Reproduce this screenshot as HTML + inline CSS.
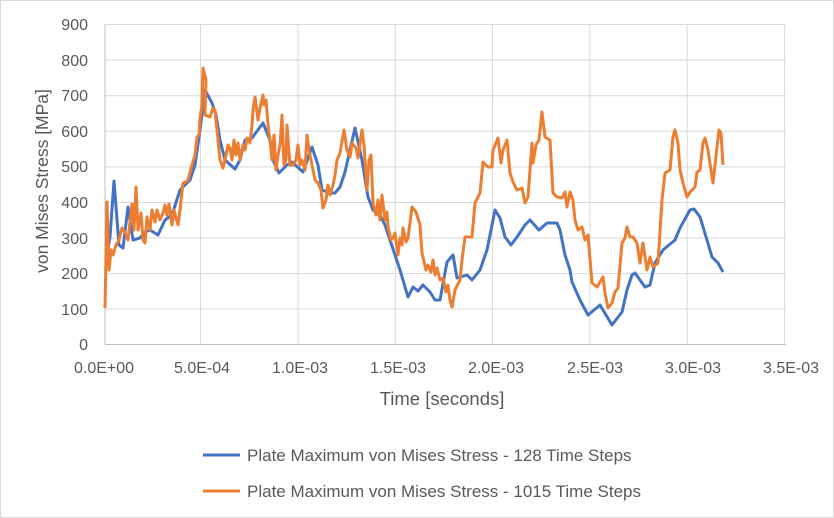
<!DOCTYPE html>
<html><head><meta charset="utf-8"><style>
body{margin:0;background:#fff}
svg{display:block;font-family:"Liberation Sans",sans-serif}
</style></head><body>
<svg width="834" height="518" viewBox="0 0 834 518">
<rect x="0.5" y="0.5" width="833" height="517" fill="#fff" stroke="#d9d9d9"/>
<g stroke="#d9d9d9" stroke-width="1">
<line x1="105" y1="24.5" x2="786" y2="24.5"/>
<line x1="105" y1="60" x2="786" y2="60"/>
<line x1="105" y1="95.7" x2="786" y2="95.7"/>
<line x1="105" y1="131.3" x2="786" y2="131.3"/>
<line x1="105" y1="166.9" x2="786" y2="166.9"/>
<line x1="105" y1="202.5" x2="786" y2="202.5"/>
<line x1="105" y1="238" x2="786" y2="238"/>
<line x1="105" y1="273.6" x2="786" y2="273.6"/>
<line x1="105" y1="309" x2="786" y2="309"/>
<line x1="200.5" y1="24.5" x2="200.5" y2="344"/>
<line x1="298" y1="24.5" x2="298" y2="344"/>
<line x1="395.3" y1="24.5" x2="395.3" y2="344"/>
<line x1="492.6" y1="24.5" x2="492.6" y2="344"/>
<line x1="589.9" y1="24.5" x2="589.9" y2="344"/>
<line x1="687.2" y1="24.5" x2="687.2" y2="344"/>
<line x1="784.5" y1="24.5" x2="784.5" y2="344"/>
</g>
<g stroke="#bfbfbf" stroke-width="1">
<line x1="105" y1="24.5" x2="105" y2="344.5"/>
<line x1="105" y1="344.5" x2="786" y2="344.5"/>
</g>
<g fill="#595959" font-size="16" text-anchor="end">
<text x="88" y="30">900</text><text x="88" y="66">800</text><text x="88" y="101">700</text>
<text x="88" y="137">600</text><text x="88" y="172">500</text><text x="88" y="208">400</text>
<text x="88" y="244">300</text><text x="88" y="279">200</text><text x="88" y="315">100</text>
<text x="88" y="350">0</text>
</g>
<g fill="#595959" font-size="16" text-anchor="middle">
<text x="104" y="373">0.0E+00</text><text x="202" y="373">5.0E-04</text><text x="300" y="373">1.0E-03</text>
<text x="398" y="373">1.5E-03</text><text x="496" y="373">2.0E-03</text><text x="595" y="373">2.5E-03</text>
<text x="693" y="373">3.0E-03</text><text x="791" y="373">3.5E-03</text>
</g>
<text x="442" y="405" fill="#595959" font-size="18.5" text-anchor="middle">Time [seconds]</text>
<text transform="translate(48,181) rotate(-90)" fill="#595959" font-size="17.5" text-anchor="middle">von Mises Stress [MPa]</text>
<polyline fill="none" stroke="#4472c4" stroke-width="3" stroke-linejoin="round" points="106,260 110,237 114,181 119,245 123,248 128,207 133,240 140,238 145,232 150,230 158,235 165,220 172,215 180,190 190,180 195,165 200,130 205,90 212,103 216,115 220,140 225,160 235,169 240,160 245,140 252,138 263,123 270,140 273,160 279,173 287,165 292,162 303,172 312,147 318,165 322,190 330,193 335,193 340,187 345,172 355,128 362,160 368,197 373,210 380,215 385,225 390,240 400,270 408,297 413,287 418,291 423,285 430,292 435,300 440,300 447,262 453,255 457,278 467,275 472,280 480,270 487,250 495,210 500,218 505,237 511,245 517,237 525,225 530,220 539,230 547,223 557,223 560,230 565,255 570,270 572,282 580,300 588,315 600,305 603,310 612,325 622,312 627,290 632,275 635,273 645,287 650,285 655,263 663,250 675,240 680,228 690,210 694,209 700,217 707,240 712,257 718,263 723,272"/>
<polyline fill="none" stroke="#ed7d31" stroke-width="3" stroke-linejoin="round" points="105,308 107,202 109,270 111,250 113,255 116,245 119,240 122,228 125,232 128,240 132,204 134,230 136,187 138,230 141,213 143,240 145,243 147,217 150,230 152,210 155,222 157,210 160,220 163,213 165,205 167,215 169,204 172,225 174,210 176,218 178,225 180,210 183,183 186,182 188,180 192,165 195,155 197,137 199,135 200,118 202,105 203,68 206,80 205,115 210,117 213,108 215,110 218,140 220,160 223,168 225,160 228,145 230,148 232,160 234,140 236,155 238,143 240,160 243,145 245,150 247,138 250,143 252,125 253,110 255,97 258,120 260,108 263,95 264,105 266,100 268,125 270,140 272,160 274,135 276,170 278,155 280,145 282,115 284,165 286,160 287,125 290,165 293,165 296,160 298,145 300,165 302,160 305,170 307,135 309,150 312,165 315,180 318,183 321,190 323,208 326,200 328,185 330,195 333,185 335,175 337,160 340,153 344,130 347,150 350,157 352,143 356,148 358,158 362,130 364,145 367,190 369,160 371,155 373,203 376,215 378,200 380,220 382,195 385,220 387,212 388,227 391,240 393,238 395,233 398,255 400,238 402,245 403,228 406,242 408,238 412,207 416,212 420,225 422,253 426,270 428,265 431,272 433,260 435,275 437,268 440,280 443,278 446,292 448,285 450,300 452,307 455,290 460,280 462,260 465,237 472,237 475,203 480,193 483,162 488,167 492,167 493,150 498,138 501,163 503,150 507,140 510,173 513,182 517,190 522,188 525,203 528,197 532,143 533,163 536,145 539,140 542,112 545,137 550,140 553,193 557,197 562,198 565,192 567,207 570,192 573,200 575,220 578,230 582,227 585,240 588,235 592,283 597,287 600,282 603,277 605,293 608,308 612,303 615,292 618,288 622,243 625,238 627,227 630,237 633,237 637,243 640,263 643,243 647,270 650,257 653,267 658,263 662,200 665,173 670,170 673,137 675,130 678,143 680,170 683,183 687,197 690,192 695,187 697,172 700,170 703,143 705,138 708,150 712,177 713,183 717,147 719,130 721,133 723,165"/>
<line x1="203" y1="455" x2="240" y2="455" stroke="#4472c4" stroke-width="3"/>
<line x1="203" y1="491" x2="240" y2="491" stroke="#ed7d31" stroke-width="3"/>
<g fill="#595959" font-size="17">
<text x="247" y="461">Plate Maximum von Mises Stress - 128 Time Steps</text>
<text x="247" y="497">Plate Maximum von Mises Stress - 1015 Time Steps</text>
</g>
</svg>
</body></html>
